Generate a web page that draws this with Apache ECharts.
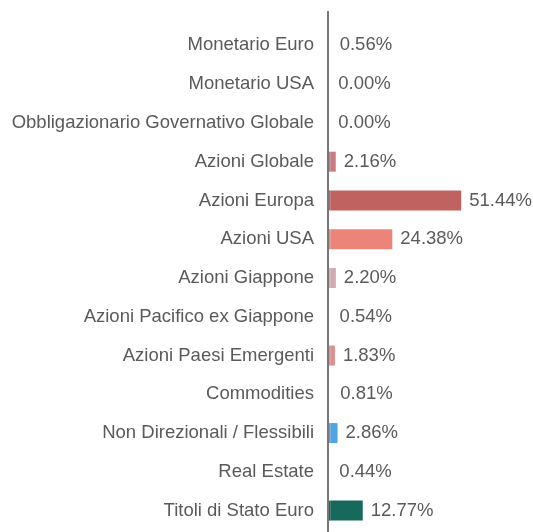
<!DOCTYPE html>
<html>
<head>
<meta charset="utf-8" />
<script src="https://cdn.jsdelivr.net/npm/echarts@6.0.0/dist/echarts.min.js"></script>
<style>html,body{margin:0;padding:0;background:#fff}#chart{width:533px;height:532px}</style>
</head>
<body>
<div id="chart"></div>
<script>
  // dati
  const categories = [
    "Monetario Euro", "Monetario USA", "Obbligazionario Governativo Globale",
    "Azioni Globale", "Azioni Europa", "Azioni USA", "Azioni Giappone",
    "Azioni Pacifico ex Giappone", "Azioni Paesi Emergenti", "Commodities",
    "Non Direzionali / Flessibili", "Real Estate", "Titoli di Stato Euro"
  ];
  const weights = [0.56, 0.00, 0.00, 2.16, 51.44, 24.38, 2.20, 0.54, 1.83, 0.81, 2.86, 0.44, 12.77];
  // le voci sotto l'1% nell'originale non mostrano la barra
  const barColors = [
    "transparent", "transparent", "transparent", "#c97b7f", "#c0625f", "#ec847a", "#d4a9b1",
    "transparent", "#e08d8b", "transparent", "#4ea4e0", "transparent", "#17695c"
  ];

  const chart = echarts.init(document.getElementById("chart"), null, { renderer: "canvas" });
  const textColor = "#5a5a5a";
  const font = "Liberation Sans, Arial, sans-serif";
  // nell'originale le barre partono dall'asse con un piccolo scarto (~0.88 punti)
  const barOffset = 0.88;

  chart.setOption({
    animation: false,
    grid: { left: 328, right: 50, top: 26, bottom: 2 },
    xAxis: { type: "value", min: 0, max: 60 + barOffset, show: false },
    yAxis: {
      type: "category",
      inverse: true,
      data: categories,
      axisLine: { show: false },
      axisTick: { show: false },
      axisLabel: { color: textColor, fontSize: 18.5, fontFamily: font, margin: 14 }
    },
    series: [{
      type: "bar",
      stack: "w",
      barWidth: 20,
      silent: true,
      data: weights.map((v, i) => ({ value: barOffset, itemStyle: { color: barColors[i] } }))
    }, {
      type: "bar",
      stack: "w",
      barWidth: 20,
      data: weights.map((v, i) => ({ value: v, itemStyle: { color: barColors[i] } })),
      label: {
        show: true,
        position: "right",
        distance: 8,
        color: textColor,
        fontSize: 18.5,
        fontFamily: font,
        formatter: (p) => p.value.toFixed(2) + "%"
      }
    }]
  });

  // linea dell'asse, un po' più lunga della griglia come nell'originale
  const gridRect = chart.getModel().getComponent("grid").coordinateSystem.getRect();
  chart.setOption({
    graphic: [{
      type: "line",
      shape: { x1: gridRect.x, y1: gridRect.y - 15, x2: gridRect.x, y2: gridRect.y + gridRect.height + 14 },
      style: { stroke: "#777", lineWidth: 2 },
      z: 10
    }]
  });
</script>
</body>
</html>
